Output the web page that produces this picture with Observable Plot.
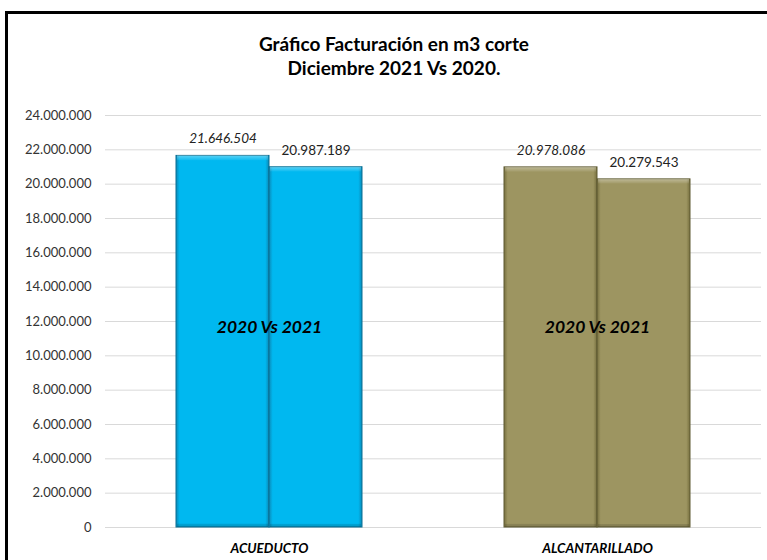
<!DOCTYPE html>
<html>
<head>
<meta charset="utf-8">
<script src="https://cdn.jsdelivr.net/npm/d3@7"></script>
<script src="https://cdn.jsdelivr.net/npm/@observablehq/plot@0.6"></script>
<style>
  html, body { margin: 0; padding: 0; background: #fff; }
  #wrap { position: relative; width: 767px; height: 560px; overflow: hidden; }
  #frame { position: absolute; left: 5px; top: 11px; width: 800px; height: 600px;
           border-top: 3px solid #000; border-left: 3px solid #000; z-index: 5; pointer-events: none; }
  #title { position: relative; height: 100px; }
  #title div { position: absolute; left: 6px; width: 776px; text-align: center;
               font-family: Lato, "Open Sans", sans-serif; font-weight: bold; font-size: 19px;
               line-height: 24px; color: #000; white-space: pre; }
</style>
</head>
<body>
<div id="wrap">
  <div id="frame"></div>
  <div id="title">
    <div style="top:32px">Gráfico Facturación en m3 corte</div>
    <div style="top:56px">Diciembre 2021 Vs 2020.</div>
  </div>
  <div id="chart"></div>
</div>
<script>
const categories = ["ACUEDUCTO", "ALCANTARILLADO"];
const series = ["2020", "2021"];
const valuesFirst = [21646504, 20978086];
const valuesSecond = [20987189, 20279543];
const yTicks = [0, 2000000, 4000000, 6000000, 8000000, 10000000, 12000000, 14000000, 16000000, 18000000, 20000000, 22000000, 24000000];
const innerLabel = "2020 Vs 2021";

const fmt = d3.formatLocale({decimal: ",", thousands: ".", grouping: [3], currency: ["", ""]}).format(",d");

const data = categories.flatMap((c, i) => [
  {category: c, series: series[0], value: valuesFirst[i]},
  {category: c, series: series[1], value: valuesSecond[i]}
]);

const svg = Plot.plot({
  width: 767,
  height: 460,
  marginTop: 15,
  marginBottom: 33,
  marginLeft: 104,
  marginRight: 6,
  style: {background: "transparent", fontFamily: "Lato, 'Open Sans', sans-serif", fontSize: "13px", color: "#333"},
  fx: {domain: categories, padding: 0, label: null},
  x: {domain: series, paddingInner: 0, paddingOuter: 0.747, align: 0.5, axis: null},
  y: {domain: [0, 24000000]},
  color: {domain: categories, range: ["url(#gA)", "url(#gB)"]},
  marks: [
    Plot.gridY(yTicks, {stroke: "#d9d9d9", strokeOpacity: 1}),
    Plot.axisY({ticks: yTicks, tickSize: 0, tickPadding: 14, tickFormat: fmt, label: null, fontSize: 13, fill: "#333"}),
    Plot.axisFx({anchor: "bottom", tickSize: 0, tickPadding: 16, label: null, fontStyle: "italic", fontWeight: "bold", fontSize: 13.5, fill: "#000"}),
    Plot.barY(data, {fx: "category", x: "series", y: "value", fill: "category",
      stroke: d => d.category === categories[0] ? "#0b6f93" : "#5e5a33", strokeWidth: 1}),
    Plot.barY(data, {fx: "category", x: "series", y: "value", fill: "url(#hl)", insetLeft: 1, insetRight: 1}),
    Plot.text(data.filter(d => d.series === series[0]), {fx: "category", x: "series", y: "value",
      text: d => fmt(d.value), dy: -17, fontStyle: "italic", fontSize: 13.5, fill: "#222"}),
    Plot.text(data.filter(d => d.series === series[1]), {fx: "category", x: "series", y: "value",
      text: d => fmt(d.value), dy: -17, fontSize: 13.5, fill: "#222"}),
    Plot.text(categories, {fx: d => d, text: () => innerLabel, frameAnchor: "middle", dy: 6,
      fontStyle: "italic", fontWeight: "bold", fontSize: 17.5, fill: "#000"})
  ]
});

const defs = d3.select(svg).insert("defs", ":first-child");
function hgrad(id, edge, base) {
  const g = defs.append("linearGradient").attr("id", id).attr("x1", "0").attr("x2", "1").attr("y1", "0").attr("y2", "0");
  [[0, edge], [0.04, base], [0.96, base], [1, edge]].forEach(([o, c]) =>
    g.append("stop").attr("offset", o).attr("stop-color", c));
}
hgrad("gA", "#0a8ab8", "#00B8F0");
hgrad("gB", "#77703f", "#9D9561");
const hl = defs.append("linearGradient").attr("id", "hl").attr("x1", "0").attr("x2", "0").attr("y1", "0").attr("y2", "1");
[[0, "#fff", 0.35], [0.012, "#fff", 0.08], [0.014, "#fff", 0], [0.99, "#000", 0], [0.992, "#000", 0.12], [1, "#000", 0.18]]
  .forEach(([o, c, a]) => hl.append("stop").attr("offset", o).attr("stop-color", c).attr("stop-opacity", a));

document.getElementById("chart").appendChild(svg);
</script>
</body>
</html>
